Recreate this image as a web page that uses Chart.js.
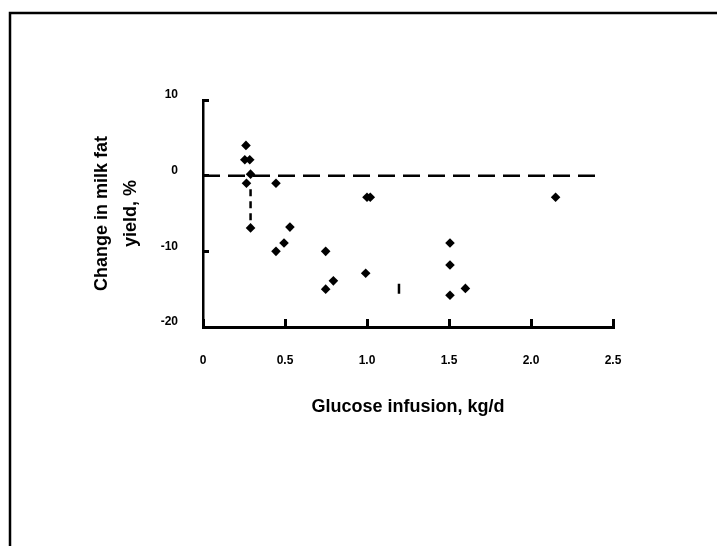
<!DOCTYPE html>
<html>
<head>
<meta charset="utf-8">
<script src="https://cdn.jsdelivr.net/npm/chart.js@4.4.0/dist/chart.umd.min.js"></script>
<style>
  html, body { margin: 0; padding: 0; background: #fff; }
  #wrap { position: relative; width: 717px; height: 546px; }
</style>
</head>
<body>
<div id="wrap"><canvas id="myChart" width="717" height="546"></canvas></div>
<script>
//---------------------------------------------------------------------------
// values
const glucoseX = [0.262, 0.255, 0.285, 0.29, 0.265, 0.29, 0.445, 0.445, 0.494, 0.53,
                  0.748, 0.795, 0.748, 1.0, 1.02, 2.15, 1.506, 1.506, 0.992, 1.6, 1.506];
const fatChangeY = [4.0, 2.1, 2.1, 0.2, -1.0, -6.9, -1.0, -10, -8.9, -6.8,
                    -10, -13.9, -15, -2.85, -2.85, -2.85, -8.9, -11.8, -12.9, -14.9, -15.8];
// dashed zero reference line
const zeroLineX = [0, 2.42];
const zeroLineY = [0, 0];
// dashed vertical segment below the first group
const dropLineX = [0.29, 0.29];
const dropLineY = [-1.8, -6.6];
// small stray bar
const markX = [1.195, 1.195];
const markY = [-14.3, -15.6];

const xTicks = [0, 0.5, 1.0, 1.5, 2.0, 2.5];
const yTicks = [-20, -10, 0, 10];

const FONT = "'Liberation Sans', Arial, sans-serif";
//---------------------------------------------------------------------------
const toPoints = (xs, ys) => xs.map((x, i) => ({ x: x, y: ys[i] }));

// outer frame (top and left border of the picture)
const framePlugin = {
    id: 'frame',
    beforeDraw(chart) {
        const ctx = chart.ctx;
        ctx.save();
        ctx.fillStyle = '#fff';
        ctx.fillRect(0, 0, chart.width, chart.height);
        ctx.strokeStyle = '#000';
        ctx.lineWidth = 2.5;
        ctx.beginPath();
        ctx.moveTo(10, chart.height);
        ctx.lineTo(10, 13);
        ctx.lineTo(chart.width, 13);
        ctx.stroke();
        ctx.restore();
    }
};

new Chart(document.getElementById('myChart'), {
    type: 'scatter',
    data: {
        datasets: [{
            label: 'Change in milk fat yield',
            data: toPoints(glucoseX, fatChangeY),
            pointStyle: 'rectRot',
            pointRadius: 4.8,
            pointBackgroundColor: '#000',
            pointBorderColor: '#000',
            pointBorderWidth: 0,
            showLine: false
        }, {
            label: 'zero',
            data: toPoints(zeroLineX, zeroLineY),
            showLine: true,
            borderColor: '#000',
            borderWidth: 2.5,
            borderDash: [17, 8],
            pointRadius: 0
        }, {
            label: 'drop',
            data: toPoints(dropLineX, dropLineY),
            showLine: true,
            borderColor: '#000',
            borderWidth: 2.5,
            borderDash: [7, 5],
            pointRadius: 0
        }, {
            label: 'mark',
            data: toPoints(markX, markY),
            showLine: true,
            borderColor: '#000',
            borderWidth: 2.5,
            pointRadius: 0
        }]
    },
    options: {
        responsive: false,
        animation: false,
        layout: { padding: { left: 0, top: 100, right: 104, bottom: 99 } },
        plugins: {
            legend: { display: false },
            tooltip: { enabled: false }
        },
        scales: {
            x: {
                type: 'linear',
                min: 0,
                max: 2.5,
                afterBuildTicks: (scale) => { scale.ticks = xTicks.map(v => ({ value: v })); },
                afterFit: (scale) => { scale.height = 120; },
                border: { display: true, color: '#000', width: 3 },
                grid: { display: true, drawOnChartArea: false, drawTicks: true, tickLength: -8, color: '#000', lineWidth: 3 },
                ticks: {
                    color: '#000',
                    padding: 34,
                    maxRotation: 0,
                    font: { family: FONT, size: 12, weight: 'bold' },
                    callback: (v) => v === 0 ? '0' : v.toFixed(1)
                },
                title: {
                    display: true,
                    text: 'Glucose infusion, kg/d',
                    color: '#000',
                    font: { family: FONT, size: 18, weight: 'bold' },
                    padding: { top: 0, bottom: 29 }
                }
            },
            y: {
                type: 'linear',
                min: -20,
                max: 10,
                afterBuildTicks: (scale) => { scale.ticks = yTicks.map(v => ({ value: v })); },
                afterFit: (scale) => { scale.width = 203; },
                border: { display: true, color: '#000', width: 2.5 },
                grid: { display: true, drawOnChartArea: false, drawTicks: true, tickLength: -6, color: '#000', lineWidth: 3 },
                ticks: {
                    color: '#000',
                    padding: 31,
                    labelOffset: -5,
                    font: { family: FONT, size: 12, weight: 'bold' },
                    callback: (v) => String(v)
                },
                title: {
                    display: true,
                    text: ['Change in milk fat', 'yield, %'],
                    color: '#000',
                    font: { family: FONT, size: 18, weight: 'bold', lineHeight: 1.6 },
                    padding: { top: 88, bottom: 0 }
                }
            }
        }
    },
    plugins: [framePlugin]
});
</script>
</body>
</html>
